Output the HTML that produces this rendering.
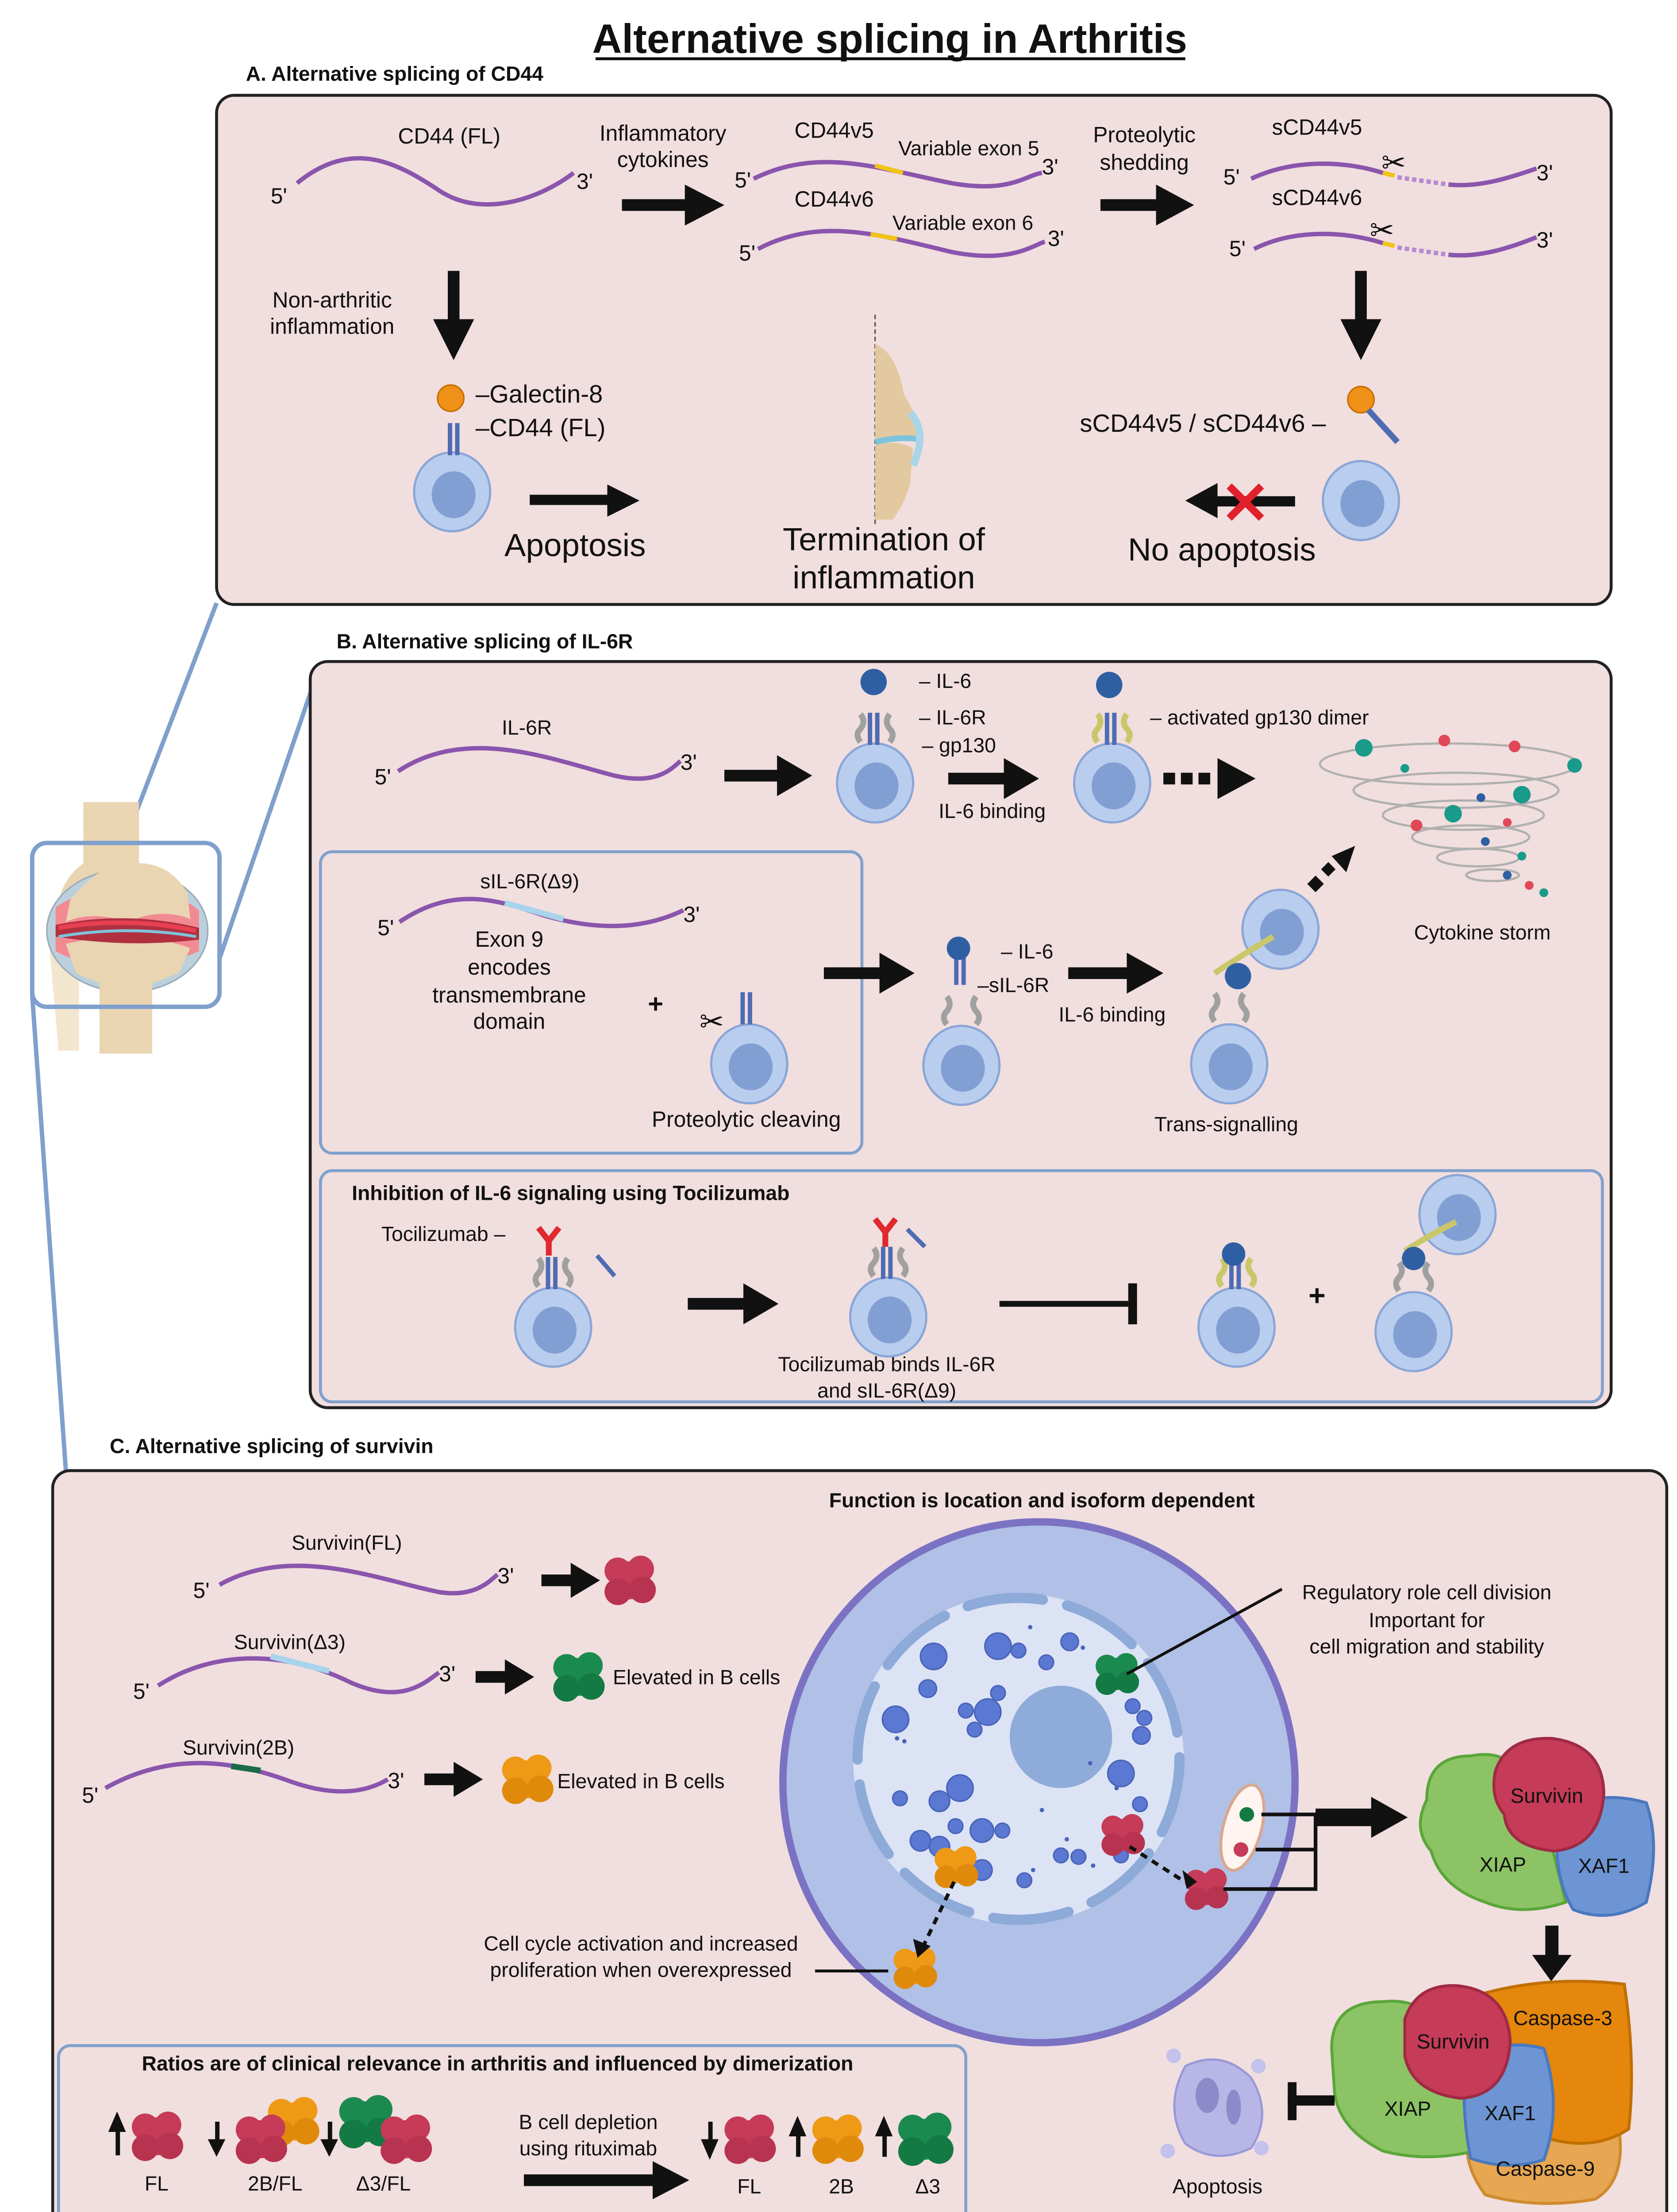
<!DOCTYPE html>
<html><head><meta charset="utf-8"><style>
html,body{margin:0;padding:0;background:#fff;width:3790px;height:5180px;overflow:hidden}
svg{display:block;position:absolute;left:0;top:0}
text{font-family:"Liberation Sans",sans-serif;fill:#111}
</style></head><body>
<svg width="3790" height="5180" viewBox="0 0 1146 1566" xmlns="http://www.w3.org/2000/svg">
<defs>
<g id="cell"><ellipse rx="26" ry="27" fill="#b9cdee" stroke="#8aa6d6" stroke-width="1.5"/><ellipse cx="1" cy="2" rx="15" ry="16" fill="#819fd3"/></g>
<g id="red"><circle r="10" fill="#c63b57"/><circle cx="-6" cy="-5" r="7" fill="#c63b57"/><circle cx="6" cy="-6" r="7" fill="#c63b57"/><circle cx="7" cy="5" r="7" fill="#b83350"/><circle cx="-6" cy="6" r="7" fill="#b83350"/></g>
<g id="green"><circle r="10" fill="#1b8a4f"/><circle cx="-6" cy="-5" r="7" fill="#1b8a4f"/><circle cx="6" cy="-6" r="7" fill="#1b8a4f"/><circle cx="7" cy="5" r="7" fill="#137a43"/><circle cx="-6" cy="6" r="7" fill="#137a43"/></g>
<g id="orange"><circle r="10" fill="#ee9a17"/><circle cx="-6" cy="-5" r="7" fill="#ee9a17"/><circle cx="6" cy="-6" r="7" fill="#ee9a17"/><circle cx="7" cy="5" r="7" fill="#e08a0c"/><circle cx="-6" cy="6" r="7" fill="#e08a0c"/></g>
<g id="rec"><rect x="-4" y="-22" width="3" height="22" fill="#4f6cb3"/><rect x="1" y="-22" width="3" height="22" fill="#4f6cb3"/></g>
<g id="gp"><path d="M-10,-2 q-4,-5 0,-9 q4,-5 0,-10" stroke="#a0a0a0" stroke-width="4" fill="none"/><path d="M10,-2 q4,-5 0,-9 q-4,-5 0,-10" stroke="#a0a0a0" stroke-width="4" fill="none"/></g>
<g id="gpy"><path d="M-10,-2 q-4,-5 0,-9 q4,-5 0,-10" stroke="#c9c76a" stroke-width="4" fill="none"/><path d="M10,-2 q4,-5 0,-9 q-4,-5 0,-10" stroke="#c9c76a" stroke-width="4" fill="none"/></g>
<g id="ab"><path d="M0,0 v-10 l-7,-9 M0,-10 l7,-9" stroke="#e0282e" stroke-width="4" fill="none"/></g>
</defs>
<rect width="1146" height="1566" fill="#fff"/>
<text x="608" y="36" font-size="28" font-weight="bold" text-anchor="middle">Alternative splicing in Arthritis</text>
<line x1="407" y1="40" x2="810" y2="40" stroke="#111" stroke-width="2"/>

<!-- connectors -->
<g stroke="#7fa0cc" stroke-width="3" fill="none">
<line x1="85" y1="576" x2="148" y2="412"/>
<line x1="150" y1="655" x2="214" y2="468"/>
<line x1="22" y1="680" x2="45" y2="1005"/>
</g>

<!-- Panel A -->
<text x="168" y="55" font-size="14" font-weight="bold">A. Alternative splicing of CD44</text>
<rect x="148" y="65" width="953" height="348" rx="12" fill="#f1dede" stroke="#222" stroke-width="2"/>
<g font-size="15">
<text x="307" y="98" text-anchor="middle">CD44 (FL)</text>
<text x="185" y="139">5'</text><text x="394" y="129">3'</text>
<path d="M203,125 C240,95 270,110 300,130 C330,150 370,135 392,118" stroke="#8a55ad" stroke-width="3" fill="none"/>
<text x="453" y="96" text-anchor="middle">Inflammatory</text><text x="453" y="114" text-anchor="middle">cytokines</text>
<text x="570" y="94" text-anchor="middle">CD44v5</text><text x="662" y="106" text-anchor="middle" font-size="14">Variable exon 5</text>
<text x="502" y="128">5'</text><text x="712" y="119">3'</text>
<path d="M515,122 C560,100 600,115 650,125 C690,132 700,120 712,118" stroke="#8a55ad" stroke-width="3" fill="none"/>
<path d="M598,113 L617,118" stroke="#f2c318" stroke-width="3"/>
<text x="570" y="141" text-anchor="middle">CD44v6</text><text x="658" y="157" text-anchor="middle" font-size="14">Variable exon 6</text>
<text x="505" y="178">5'</text><text x="716" y="168">3'</text>
<path d="M518,170 C560,148 600,160 650,172 C690,180 705,168 714,165" stroke="#8a55ad" stroke-width="3" fill="none"/>
<path d="M595,160 L613,163" stroke="#f2c318" stroke-width="3"/>
<text x="782" y="97" text-anchor="middle">Proteolytic</text><text x="782" y="116" text-anchor="middle">shedding</text>
<text x="900" y="92" text-anchor="middle">sCD44v5</text><text x="900" y="140" text-anchor="middle">sCD44v6</text>
<text x="836" y="126">5'</text><text x="1050" y="123">3'</text>
<text x="840" y="175">5'</text><text x="1050" y="169">3'</text>
<path d="M855,122 C885,108 920,110 945,118" stroke="#8a55ad" stroke-width="3" fill="none"/>
<path d="M945,118 L953,120" stroke="#f2c318" stroke-width="3"/>
<path d="M955,121 L990,126" stroke="#b58ad0" stroke-width="3" stroke-dasharray="3 2"/>
<path d="M990,126 C1010,128 1030,122 1050,115" stroke="#8a55ad" stroke-width="3" fill="none"/>
<path d="M857,170 C885,156 920,158 945,166" stroke="#8a55ad" stroke-width="3" fill="none"/>
<path d="M945,166 L953,168" stroke="#f2c318" stroke-width="3"/>
<path d="M955,169 L990,174" stroke="#b58ad0" stroke-width="3" stroke-dasharray="3 2"/>
<path d="M990,174 C1010,176 1030,170 1050,162" stroke="#8a55ad" stroke-width="3" fill="none"/>
<text x="944" y="118" font-size="20">✂</text><text x="936" y="164" font-size="20">✂</text>
<text x="227" y="210" text-anchor="middle">Non-arthritic</text><text x="227" y="228" text-anchor="middle">inflammation</text>
<text x="325" y="275" font-size="17">–Galectin-8</text><text x="325" y="298" font-size="17">–CD44 (FL)</text>
<text x="393" y="380" font-size="22" text-anchor="middle">Apoptosis</text>
<text x="604" y="376" font-size="22" text-anchor="middle">Termination of</text>
<text x="604" y="402" font-size="22" text-anchor="middle">inflammation</text>
<text x="822" y="295" font-size="17" text-anchor="middle">sCD44v5 / sCD44v6 –</text>
<text x="835" y="383" font-size="22" text-anchor="middle">No apoptosis</text>
</g>
<g fill="#111">
<rect x="425" y="136" width="45" height="8"/><polygon points="468,126 495,140 468,154"/>
<rect x="752" y="136" width="40" height="8"/><polygon points="790,126 816,140 790,154"/>
<rect x="306" y="185" width="8" height="35"/><polygon points="296,218 324,218 310,246"/>
<rect x="926" y="185" width="8" height="35"/><polygon points="916,218 944,218 930,246"/>
<rect x="362" y="338" width="55" height="7"/><polygon points="415,331 437,342 415,353"/>
<rect x="830" y="339" width="55" height="7"/><polygon points="832,330 810,342 832,354"/>
</g>
<path d="M840,332 l22,22 M862,332 l-22,22" stroke="#e0202a" stroke-width="5"/>
<use href="#cell" x="309" y="336"/><use href="#rec" x="310" y="311"/>
<circle cx="308" cy="272" r="9" fill="#ef9118" stroke="#c66e00"/>
<use href="#cell" x="930" y="342"/>
<circle cx="930" cy="273" r="9" fill="#ef9118" stroke="#c66e00"/>
<line x1="935" y1="280" x2="955" y2="302" stroke="#4f6cb3" stroke-width="4"/>
<!-- knee small -->
<line x1="598" y1="215" x2="598" y2="358" stroke="#555" stroke-dasharray="3 2"/>
<path d="M598,235 Q612,240 618,270 Q628,285 626,300 L598,300 Z" fill="#e3c9a0"/>
<path d="M598,304 Q612,300 624,306 L622,330 Q618,345 610,355 L598,355 Z" fill="#e3c9a0"/>
<path d="M598,302 Q614,298 628,300" stroke="#7dc3dc" stroke-width="4" fill="none"/>
<path d="M622,282 Q634,295 624,318" stroke="#a9d6e6" stroke-width="5" fill="none"/>

<!-- Panel B -->
<text x="230" y="443" font-size="14" font-weight="bold">B. Alternative splicing of IL-6R</text>
<rect x="212" y="452" width="889" height="510" rx="12" fill="#f1dede" stroke="#222" stroke-width="2"/>
<rect x="219" y="582" width="370" height="206" rx="8" fill="none" stroke="#7fa0cc" stroke-width="2"/>
<rect x="219" y="800" width="876" height="158" rx="8" fill="none" stroke="#7fa0cc" stroke-width="2"/>
<g font-size="14">
<text x="360" y="502" text-anchor="middle">IL-6R</text>
<text x="256" y="536" font-size="15">5'</text><text x="465" y="526" font-size="15">3'</text>
<text x="628" y="470">– IL-6</text><text x="628" y="495">– IL-6R</text><text x="630" y="514">– gp130</text>
<text x="678" y="559" text-anchor="middle">IL-6 binding</text>
<text x="786" y="495">– activated gp130 dimer</text>
<text x="1013" y="642" text-anchor="middle">Cytokine storm</text>
<text x="362" y="607" text-anchor="middle">sIL-6R(Δ9)</text>
<text x="258" y="639" font-size="15">5'</text><text x="467" y="630" font-size="15">3'</text>
<text x="348" y="647" text-anchor="middle" font-size="15">Exon 9</text><text x="348" y="666" text-anchor="middle" font-size="15">encodes</text>
<text x="348" y="685" text-anchor="middle" font-size="15">transmembrane</text><text x="348" y="703" text-anchor="middle" font-size="15">domain</text>
<text x="448" y="692" text-anchor="middle" font-size="18" font-weight="bold">+</text>
<text x="510" y="770" text-anchor="middle" font-size="15">Proteolytic cleaving</text>
<text x="684" y="655">– IL-6</text><text x="668" y="678">–sIL-6R</text>
<text x="760" y="698" text-anchor="middle">IL-6 binding</text>
<text x="838" y="773" text-anchor="middle">Trans-signalling</text>
<text x="390" y="820" text-anchor="middle" font-weight="bold">Inhibition of IL-6 signaling using Tocilizumab</text>
<text x="303" y="848" text-anchor="middle">Tocilizumab –</text>
<text x="606" y="937" text-anchor="middle">Tocilizumab binds IL-6R</text><text x="606" y="955" text-anchor="middle">and sIL-6R(Δ9)</text>
<text x="900" y="892" text-anchor="middle" font-size="20" font-weight="bold">+</text>
</g>
<path d="M272,527 C320,495 380,520 420,530 C450,537 460,524 465,520" stroke="#8a55ad" stroke-width="3" fill="none"/>
<path d="M273,630 C310,605 340,615 370,625 C420,640 450,630 467,622" stroke="#8a55ad" stroke-width="3" fill="none"/>
<path d="M345,617 L385,628" stroke="#a8d4ec" stroke-width="4"/>
<g fill="#111">
<rect x="495" y="526" width="38" height="8"/><polygon points="531,516 555,530 531,544"/>
<rect x="648" y="528" width="40" height="8"/><polygon points="686,518 710,532 686,546"/>
<rect x="795" y="528" width="8" height="8"/><rect x="807" y="528" width="8" height="8"/><rect x="819" y="528" width="8" height="8"/><polygon points="832,518 858,532 832,546"/>
<rect x="563" y="661" width="40" height="8"/><polygon points="601,651 625,665 601,679"/>
<rect x="730" y="661" width="42" height="8"/><polygon points="770,651 795,665 770,679"/>
<polygon points="910,585 926,578 920,596"/><rect x="895" y="600" width="8" height="8" transform="rotate(-45 899 604)"/><rect x="904" y="591" width="7" height="7" transform="rotate(-45 907 594)"/>
<rect x="470" y="887" width="40" height="8"/><polygon points="508,877 532,891 508,905"/>
<rect x="683" y="889" width="88" height="4"/><rect x="771" y="877" width="6" height="28"/>
</g>
<use href="#cell" x="598" y="535"/><use href="#gp" x="598" y="509"/><use href="#rec" x="597" y="509"/>
<circle cx="597" cy="466" r="9" fill="#2f5fa3"/>
<use href="#cell" x="760" y="535"/><use href="#gpy" x="760" y="509"/><use href="#rec" x="759" y="509"/>
<circle cx="758" cy="468" r="9" fill="#2f5fa3"/>
<g fill="none" stroke="#b0b0b0" stroke-width="1.5">
<ellipse cx="990" cy="522" rx="88" ry="14"/><ellipse cx="995" cy="540" rx="70" ry="12"/><ellipse cx="1000" cy="557" rx="55" ry="10"/><ellipse cx="1005" cy="572" rx="40" ry="8"/><ellipse cx="1010" cy="586" rx="28" ry="6"/><ellipse cx="1020" cy="598" rx="18" ry="4"/>
</g>
<g>
<circle cx="932" cy="511" r="6" fill="#1a9a8a"/><circle cx="987" cy="506" r="4" fill="#e04858"/><circle cx="1035" cy="510" r="4" fill="#e04858"/><circle cx="1076" cy="523" r="5" fill="#1a9a8a"/>
<circle cx="960" cy="525" r="3" fill="#1a9a8a"/><circle cx="1040" cy="543" r="6" fill="#1a9a8a"/><circle cx="993" cy="556" r="6" fill="#1a9a8a"/><circle cx="968" cy="564" r="4" fill="#e04858"/>
<circle cx="1030" cy="562" r="3" fill="#e04858"/><circle cx="1015" cy="575" r="3" fill="#2f5fa3"/><circle cx="1040" cy="585" r="3" fill="#1a9a8a"/><circle cx="1045" cy="605" r="3" fill="#e04858"/><circle cx="1055" cy="610" r="3" fill="#1a9a8a"/><circle cx="1030" cy="598" r="3" fill="#2f5fa3"/><circle cx="1012" cy="545" r="3" fill="#2f5fa3"/>
</g>
<use href="#cell" x="512" y="727"/><use href="#rec" x="510" y="700"/>
<text x="478" y="705" font-size="20">✂</text>
<use href="#cell" x="657" y="728"/><use href="#gp" x="657" y="702"/><use href="#rec" x="656" y="673"/>
<circle cx="655" cy="648" r="8" fill="#2f5fa3"/>
<use href="#cell" x="840" y="727"/><use href="#gp" x="840" y="700"/>
<use href="#cell" x="875" y="635"/>
<path d="M830,665 q15,-10 40,-25" stroke="#c9c76a" stroke-width="4" fill="none"/>
<circle cx="846" cy="667" r="9" fill="#2f5fa3"/>
<use href="#cell" x="378" y="907"/><use href="#gp" x="378" y="881"/><use href="#rec" x="377" y="881"/>
<use href="#ab" x="375" y="858"/>
<line x1="408" y1="858" x2="420" y2="872" stroke="#4f6cb3" stroke-width="3"/>
<use href="#cell" x="607" y="900"/><use href="#gp" x="607" y="874"/><use href="#rec" x="606" y="874"/>
<use href="#ab" x="605" y="852"/>
<line x1="620" y1="840" x2="632" y2="852" stroke="#4f6cb3" stroke-width="3"/>
<use href="#cell" x="845" y="907"/><use href="#gpy" x="845" y="881"/><use href="#rec" x="844" y="881"/>
<circle cx="843" cy="857" r="8" fill="#2f5fa3"/>
<use href="#cell" x="966" y="910"/><use href="#gp" x="966" y="884"/>
<use href="#cell" x="996" y="830"/>
<path d="M960,855 q15,-10 35,-20" stroke="#c9c76a" stroke-width="4" fill="none"/>
<circle cx="966" cy="860" r="8" fill="#2f5fa3"/>

<!-- joint -->
<path d="M57,548 L95,548 L95,590 Q118,600 128,615 L40,615 Q45,598 57,590 Z" fill="#e9d5b2"/>
<path d="M34,650 L54,650 L54,718 L40,718 Z" fill="#f3e6cf"/>
<ellipse cx="87" cy="636" rx="55" ry="42" fill="#bcd0dc" stroke="#9ab" stroke-width="1"/>
<path d="M38,620 Q60,605 87,610 Q115,605 136,622 L136,650 Q115,660 87,655 Q60,662 38,650 Z" fill="#f28a92"/>
<path d="M48,615 Q70,588 90,590 Q115,588 128,610 L130,628 Q110,620 87,630 Q62,622 45,630 Z" fill="#e9d5b2"/>
<path d="M45,645 Q65,640 87,642 Q110,640 130,648 L122,665 L104,672 L104,720 L68,720 L68,672 L52,665 Z" fill="#e9d5b2"/>
<path d="M38,632 Q87,622 136,634 L136,642 Q87,648 38,640 Z" fill="#b03040"/>
<path d="M40,634 Q87,626 134,636" stroke="#e84050" stroke-width="3" fill="none"/>
<path d="M40,640 Q87,632 134,640" stroke="#7dc3dc" stroke-width="2" fill="none"/>
<rect x="22" y="576" width="128" height="112" rx="10" fill="none" stroke="#7fa0cc" stroke-width="3"/>

<!-- Panel C -->
<text x="75" y="993" font-size="14" font-weight="bold">C. Alternative splicing of survivin</text>
<rect x="36" y="1005" width="1103" height="550" rx="12" fill="#f1dede" stroke="#222" stroke-width="2"/>
<text x="712" y="1030" font-size="14" font-weight="bold" text-anchor="middle">Function is location and isoform dependent</text>
<ellipse cx="710" cy="1218" rx="175" ry="178" fill="#b0c0e6" stroke="#7b72c4" stroke-width="5"/>
<circle cx="696" cy="1202" r="113" fill="#dce3f5"/>
<circle cx="696" cy="1202" r="110" fill="none" stroke="#8eaad8" stroke-width="7" stroke-linecap="round" stroke-dasharray="52 17"/>
<circle cx="725" cy="1187" r="35" fill="#8fabd9"/>
<g fill="#5b78d2" stroke="#4a64b8">
<circle cx="638" cy="1132" r="9"/><circle cx="634" cy="1154" r="6"/><circle cx="612" cy="1175" r="9"/><circle cx="682" cy="1125" r="9"/><circle cx="696" cy="1128" r="5"/><circle cx="731" cy="1122" r="6"/><circle cx="715" cy="1136" r="5"/><circle cx="682" cy="1157" r="5"/><circle cx="675" cy="1170" r="9"/><circle cx="660" cy="1169" r="5"/><circle cx="666" cy="1182" r="5"/><circle cx="774" cy="1166" r="5"/><circle cx="782" cy="1174" r="5"/><circle cx="780" cy="1186" r="6"/><circle cx="766" cy="1212" r="9"/><circle cx="779" cy="1233" r="5"/><circle cx="656" cy="1222" r="9"/><circle cx="642" cy="1231" r="7"/><circle cx="615" cy="1229" r="5"/><circle cx="653" cy="1248" r="5"/><circle cx="671" cy="1251" r="8"/><circle cx="685" cy="1251" r="5"/><circle cx="629" cy="1258" r="7"/><circle cx="642" cy="1262" r="7"/><circle cx="671" cy="1278" r="7"/><circle cx="725" cy="1268" r="5"/><circle cx="737" cy="1269" r="5"/><circle cx="700" cy="1285" r="5"/><circle cx="766" cy="1268" r="5"/>
</g>
<g fill="#4a64b8"><circle cx="704" cy="1112" r="1.5"/><circle cx="740" cy="1126" r="1.5"/><circle cx="613" cy="1188" r="1.5"/><circle cx="618" cy="1190" r="1.5"/><circle cx="745" cy="1205" r="1.5"/><circle cx="763" cy="1222" r="1.5"/><circle cx="712" cy="1237" r="1.5"/><circle cx="729" cy="1257" r="1.5"/><circle cx="747" cy="1275" r="1.5"/><circle cx="706" cy="1278" r="1.5"/></g>
<use href="#green" transform="translate(763 1144) scale(1.1)"/>
<use href="#red" transform="translate(767 1254) scale(1.1)"/>
<use href="#orange" transform="translate(653 1276) scale(1.1)"/>
<use href="#red" transform="translate(824 1291) scale(1.1)"/>
<use href="#orange" transform="translate(625 1345) scale(1.1)"/>
<ellipse cx="849" cy="1249" rx="13" ry="30" fill="#fff4ef" stroke="#d8a890" stroke-width="2" transform="rotate(15 849 1249)"/>
<circle cx="852" cy="1240" r="5" fill="#137a43"/><circle cx="848" cy="1264" r="5" fill="#c63b57"/>
<g stroke="#111" stroke-width="2.5" fill="none" stroke-dasharray="5 4">
<path d="M772,1262 L808,1285"/><path d="M652,1286 L630,1332"/>
</g>
<polygon points="811,1291 808,1278 818,1286" fill="#111"/>
<polygon points="627,1338 624,1325 636,1330" fill="#111"/>
<line x1="876" y1="1086" x2="770" y2="1144" stroke="#111" stroke-width="2"/>
<g font-size="14">
<text x="975" y="1093" text-anchor="middle">Regulatory role cell division</text>
<text x="975" y="1112" text-anchor="middle">Important for</text>
<text x="975" y="1130" text-anchor="middle">cell migration and stability</text>
<text x="438" y="1333" text-anchor="middle">Cell cycle activation and increased</text>
<text x="438" y="1351" text-anchor="middle">proliferation when overexpressed</text>
</g>
<line x1="557" y1="1347" x2="607" y2="1347" stroke="#111" stroke-width="2"/>
<g stroke="#111" stroke-width="2.5" fill="none"><path d="M862,1240 L899,1240 L899,1291 L836,1291 M858,1264 L899,1264"/></g>
<rect x="899" y="1236" width="40" height="12" fill="#111"/><polygon points="937,1228 962,1242 937,1256" fill="#111"/>
<!-- complex 1 -->
<path d="M975,1230 Q975,1200 1005,1200 Q1030,1195 1040,1215 L1060,1260 L1070,1300 Q1040,1310 1015,1300 Q985,1290 978,1265 Q965,1250 975,1230 Z" fill="#8cc465" stroke="#5ba63a" stroke-width="2"/>
<path d="M1065,1240 Q1090,1222 1125,1232 Q1135,1260 1125,1300 Q1100,1315 1075,1305 Q1060,1280 1065,1240 Z" fill="#6d95d3" stroke="#4a78c0" stroke-width="2"/>
<path d="M1022,1210 Q1030,1187 1060,1188 Q1095,1192 1096,1225 Q1094,1262 1062,1265 Q1030,1262 1028,1240 Q1018,1228 1022,1210 Z" fill="#c63b57" stroke="#a02a44" stroke-width="2"/>
<g font-size="14"><text x="1057" y="1232" text-anchor="middle">Survivin</text><text x="1027" y="1279" text-anchor="middle">XIAP</text><text x="1096" y="1280" text-anchor="middle">XAF1</text></g>
<rect x="1056" y="1316" width="9" height="22" fill="#111"/><polygon points="1047,1336 1074,1336 1060,1354" fill="#111"/>
<!-- complex 2 -->
<path d="M1003,1460 Q1050,1445 1106,1452 Q1112,1490 1090,1503 Q1050,1510 1015,1500 Q1000,1480 1003,1460 Z" fill="#e6a652" stroke="#cf8a2e" stroke-width="2"/>
<path d="M1015,1362 Q1060,1350 1110,1356 Q1118,1410 1113,1455 Q1090,1470 1060,1462 L1030,1440 Z" fill="#e4870c" stroke="#c06f00" stroke-width="2"/>
<path d="M910,1400 Q910,1368 945,1368 Q975,1365 985,1390 L1005,1440 L1008,1470 Q975,1478 945,1470 Q915,1455 912,1430 Z" fill="#8cc465" stroke="#5ba63a" stroke-width="2"/>
<path d="M1002,1410 Q1025,1392 1055,1400 Q1068,1440 1055,1476 Q1030,1484 1005,1475 Q998,1440 1002,1410 Z" fill="#6d95d3" stroke="#4a78c0" stroke-width="2"/>
<path d="M960,1380 Q968,1356 995,1357 Q1030,1360 1032,1395 Q1030,1432 998,1434 Q965,1430 960,1405 Z" fill="#c63b57" stroke="#a02a44" stroke-width="2"/>
<g font-size="14"><text x="993" y="1400" text-anchor="middle">Survivin</text><text x="1068" y="1384" text-anchor="middle">Caspase-3</text><text x="962" y="1446" text-anchor="middle">XIAP</text><text x="1032" y="1449" text-anchor="middle">XAF1</text><text x="1056" y="1487" text-anchor="middle">Caspase-9</text></g>
<rect x="880" y="1423" width="6" height="26" fill="#111"/><rect x="880" y="1432" width="32" height="7" fill="#111"/>
<!-- apoptotic cell -->
<path d="M810,1412 Q835,1400 855,1420 Q870,1445 855,1468 Q830,1480 810,1465 Q795,1440 810,1412 Z" fill="#b8b6e6" stroke="#9a98d8" stroke-width="1.5"/>
<ellipse cx="825" cy="1432" rx="8" ry="12" fill="#8c8ac8"/><ellipse cx="843" cy="1440" rx="5" ry="12" fill="#8c8ac8"/>
<circle cx="802" cy="1405" r="5" fill="#c4c2ec"/><circle cx="860" cy="1412" r="5" fill="#c4c2ec"/><circle cx="798" cy="1470" r="5" fill="#c4c2ec"/><circle cx="862" cy="1468" r="5" fill="#c4c2ec"/>
<text x="832" y="1499" font-size="14" text-anchor="middle">Apoptosis</text>
<!-- isoforms -->
<g font-size="14">
<text x="237" y="1059" text-anchor="middle">Survivin(FL)</text><text x="132" y="1092" font-size="15">5'</text><text x="340" y="1082" font-size="15">3'</text>
<text x="198" y="1127" text-anchor="middle">Survivin(Δ3)</text><text x="91" y="1161" font-size="15">5'</text><text x="300" y="1149" font-size="15">3'</text>
<text x="163" y="1199" text-anchor="middle">Survivin(2B)</text><text x="56" y="1232" font-size="15">5'</text><text x="265" y="1222" font-size="15">3'</text>
<text x="476" y="1151" text-anchor="middle">Elevated in B cells</text>
<text x="438" y="1222" text-anchor="middle">Elevated in B cells</text>
</g>
<path d="M150,1083 C200,1055 260,1080 300,1088 C325,1092 335,1080 340,1076" stroke="#8a55ad" stroke-width="3" fill="none"/>
<path d="M108,1152 C150,1125 200,1130 240,1150 C275,1165 290,1150 300,1143" stroke="#8a55ad" stroke-width="3" fill="none"/>
<path d="M185,1132 L225,1142" stroke="#a8d4ec" stroke-width="4"/>
<path d="M72,1222 C120,1195 165,1205 200,1218 C235,1230 255,1222 265,1216" stroke="#8a55ad" stroke-width="3" fill="none"/>
<path d="M158,1207 L178,1210" stroke="#1a6a4a" stroke-width="4"/>
<g fill="#111">
<rect x="370" y="1076" width="22" height="8"/><polygon points="390,1068 410,1080 390,1092"/>
<rect x="325" y="1142" width="22" height="8"/><polygon points="345,1134 365,1146 345,1158"/>
<rect x="290" y="1212" width="22" height="8"/><polygon points="310,1204 330,1216 310,1228"/>
</g>
<use href="#red" transform="translate(430 1080) scale(1.3)"/>
<use href="#green" transform="translate(395 1146) scale(1.3)"/>
<use href="#orange" transform="translate(360 1216) scale(1.3)"/>
<!-- box C -->
<rect x="40" y="1398" width="620" height="153" rx="8" fill="none" stroke="#7fa0cc" stroke-width="2"/>
<g font-size="14">
<text x="340" y="1415" text-anchor="middle" font-weight="bold">Ratios are of clinical relevance in arthritis and influenced by dimerization</text>
<text x="107" y="1497" text-anchor="middle">FL</text><text x="188" y="1497" text-anchor="middle">2B/FL</text><text x="262" y="1497" text-anchor="middle">Δ3/FL</text>
<text x="202" y="1526" text-anchor="middle">Increased disease activity in patients with:</text>
<text x="202" y="1544" text-anchor="middle">High FL, and low 2B/FL + Δ3/FL complexes</text>
<text x="402" y="1455" text-anchor="middle">B cell depletion</text><text x="402" y="1473" text-anchor="middle">using rituximab</text>
<text x="512" y="1499" text-anchor="middle">FL</text><text x="575" y="1499" text-anchor="middle">2B</text><text x="634" y="1499" text-anchor="middle">Δ3</text>
<text x="573" y="1526" text-anchor="middle">Reduced disease activity</text>
</g>
<g fill="#111">
<rect x="79" y="1455" width="3" height="18"/><polygon points="74,1457 80,1443 86,1457"/>
<rect x="147" y="1450" width="3" height="14"/><polygon points="142,1462 148,1474 154,1462"/>
<rect x="224" y="1450" width="3" height="14"/><polygon points="219,1462 225,1474 231,1462"/>
<rect x="484" y="1450" width="3" height="14"/><polygon points="479,1462 485,1476 491,1462"/>
<rect x="544" y="1458" width="3" height="16"/><polygon points="539,1460 545,1446 551,1460"/>
<rect x="603" y="1458" width="3" height="16"/><polygon points="598,1460 604,1446 610,1460"/>
<rect x="358" y="1486" width="90" height="8"/><polygon points="446,1477 471,1490 446,1503"/>
</g>
<use href="#red" transform="translate(107 1460) scale(1.3)"/>
<use href="#orange" transform="translate(200 1450) scale(1.3)"/><use href="#red" transform="translate(178 1462) scale(1.3)"/>
<use href="#green" transform="translate(250 1450) scale(1.4)"/><use href="#red" transform="translate(277 1462) scale(1.3)"/>
<use href="#red" transform="translate(512 1462) scale(1.3)"/>
<use href="#orange" transform="translate(572 1462) scale(1.3)"/>
<use href="#green" transform="translate(632 1462) scale(1.4)"/>
</svg>
</body></html>
